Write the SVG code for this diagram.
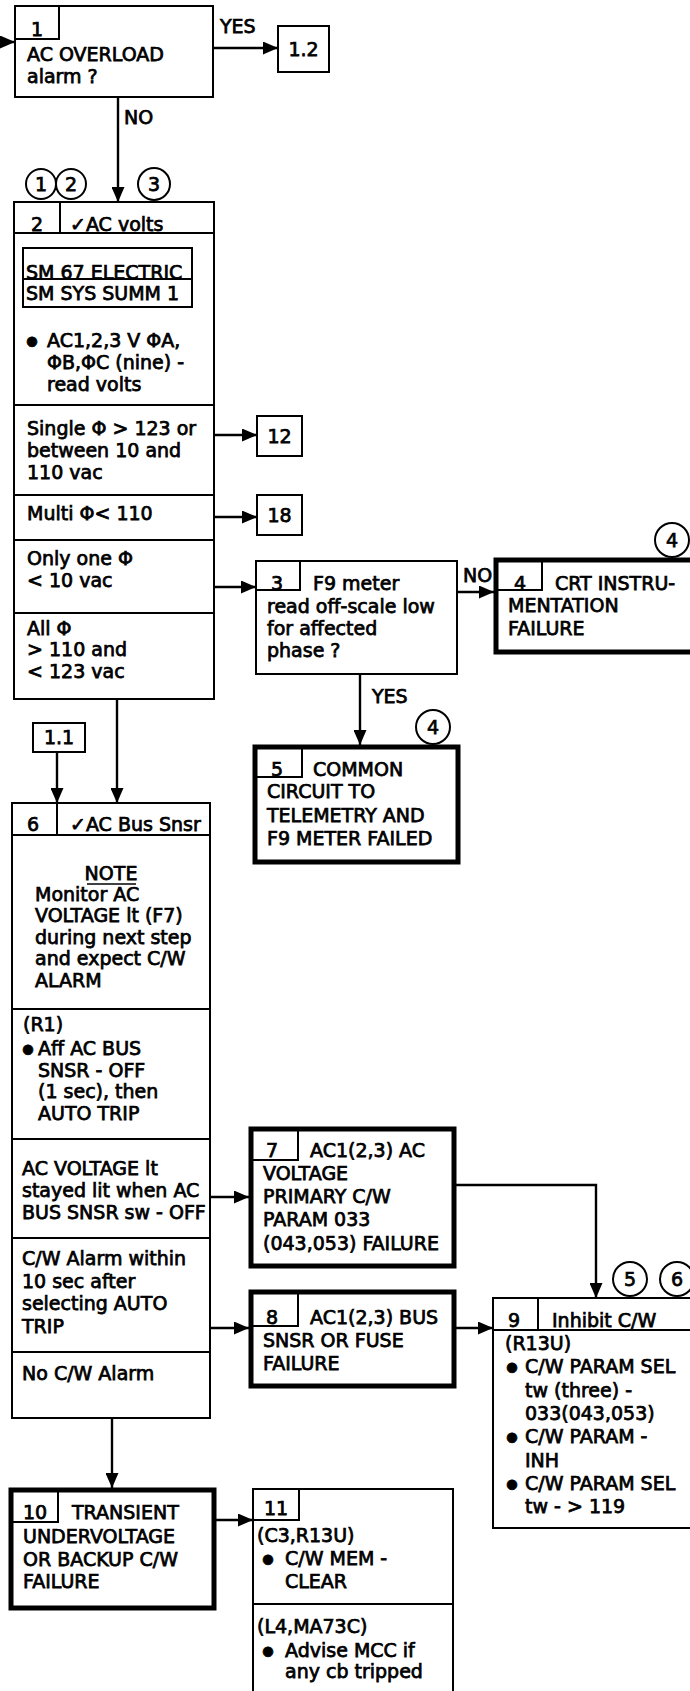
<svg xmlns="http://www.w3.org/2000/svg" width="690" height="1691" viewBox="0 0 690 1691">
<style>
.box{fill:#fff;stroke:#000;stroke-width:2}
.thick{fill:#fff;stroke:#000;stroke-width:5}
.ln{fill:none;stroke:#000;stroke-width:2}
.conn{fill:none;stroke:#000;stroke-width:2.4;marker-end:url(#ah)}
.circ{fill:#fff;stroke:#000;stroke-width:2}
text{font-family:"DejaVu Sans","Liberation Sans",sans-serif;font-size:19px;fill:#000;stroke:#000;stroke-width:0.75}
.m{text-anchor:middle}
.b{font-size:13px}
</style>
<defs>
<marker id="ah" markerUnits="userSpaceOnUse" markerWidth="15" markerHeight="13" refX="15" refY="6.5" orient="auto">
<path d="M0,0 L15,6.5 L0,13 z" fill="#000"/>
</marker>
</defs>
<rect width="690" height="1691" fill="#fff"/>

<g id="connectors">
<path class="conn" d="M0,42 H15"/>
<path class="conn" d="M213,48 H278"/>
<path class="conn" d="M118,97 V202"/>
<path class="conn" d="M214,435 H257"/>
<path class="conn" d="M214,517 H257"/>
<path class="conn" d="M214,587 H256"/>
<path class="conn" d="M457,592 H494"/>
<path class="conn" d="M360,674 V745"/>
<path class="conn" d="M117,699 V803"/>
<path class="conn" d="M57,752 V803"/>
<path class="conn" d="M210,1197 H249"/>
<path class="conn" d="M210,1328 H249"/>
<path class="conn" d="M455,1328 H493"/>
<path class="conn" d="M455,1185 H596 V1298"/>
<path class="conn" d="M112,1418 V1488"/>
<path class="conn" d="M213,1520 H253"/>
<text x="220" y="33">YES</text>
<text x="124" y="124">NO</text>
<text x="463" y="582">NO</text>
<text x="372" y="703">YES</text>
</g>

<g id="node1">
<rect class="box" x="15" y="6" width="198" height="91"/>
<path class="ln" d="M15,39 H59 V6"/>
<text class="m" x="37" y="36">1</text>
<text x="27" y="61">AC OVERLOAD</text>
<text x="27" y="83">alarm ?</text>
</g>

<g id="node1-2">
<rect class="box" x="278" y="26" width="51" height="46"/>
<text class="m" x="303.5" y="56">1.2</text>
</g>

<g id="circle1"><circle class="circ" cx="41" cy="184" r="15"/><text class="m" x="41" y="191">1</text></g>
<g id="circle2"><circle class="circ" cx="71" cy="184" r="15"/><text class="m" x="71" y="191">2</text></g>
<g id="circle3"><circle class="circ" cx="154" cy="184" r="16"/><text class="m" x="154" y="191">3</text></g>

<g id="node2">
<rect class="box" x="14" y="202" width="200" height="497"/>
<path class="ln" d="M14,233 H214 M60,202 V233"/>
<text class="m" x="37" y="231">2</text>
<text x="70" y="231">✓AC volts</text>
<rect class="box" x="23" y="248" width="169" height="59"/>
<path class="ln" d="M23,279 H192"/>
<text x="26" y="279">SM 67 ELECTRIC</text>
<text x="26" y="300">SM SYS SUMM 1</text>
<text x="32" y="345" class="m b">●</text>
<text x="47" y="347">AC1,2,3 V ΦA,</text>
<text x="47" y="369">ΦB,ΦC (nine) -</text>
<text x="47" y="391">read volts</text>
<path class="ln" d="M14,405 H214 M14,495 H214 M14,540 H214 M14,613 H214"/>
<text x="27" y="435">Single Φ &gt; 123 or</text>
<text x="27" y="457">between 10 and</text>
<text x="27" y="479">110 vac</text>
<text x="27" y="520">Multi Φ&lt; 110</text>
<text x="27" y="565">Only one Φ</text>
<text x="27" y="587">&lt; 10 vac</text>
<text x="27" y="635">All Φ</text>
<text x="27" y="656">&gt; 110 and</text>
<text x="27" y="678">&lt; 123 vac</text>
</g>

<g id="node12">
<rect class="box" x="257" y="416" width="45" height="40"/>
<text class="m" x="279.5" y="443">12</text>
</g>

<g id="node18">
<rect class="box" x="257" y="495" width="45" height="40"/>
<text class="m" x="279.5" y="522">18</text>
</g>

<g id="node3">
<rect class="box" x="256" y="561" width="201" height="113"/>
<path class="ln" d="M256,590 H300 V561"/>
<text class="m" x="277" y="590">3</text>
<text x="313" y="590">F9 meter</text>
<text x="267" y="613">read off-scale low</text>
<text x="267" y="635">for affected</text>
<text x="267" y="657">phase ?</text>
</g>

<g id="node4">
<rect class="thick" x="496" y="560" width="210" height="92"/>
<path class="ln" d="M497,590 H542 V562"/>
<text class="m" x="520" y="590">4</text>
<text x="555" y="590">CRT INSTRU-</text>
<text x="508" y="612">MENTATION</text>
<text x="508" y="635">FAILURE</text>
</g>
<g id="circle4a"><circle class="circ" cx="672" cy="540" r="17"/><text class="m" x="672" y="547">4</text></g>

<g id="node5">
<rect class="thick" x="255" y="747" width="203" height="115"/>
<path class="ln" d="M257,777 H302 V749"/>
<text class="m" x="277" y="776">5</text>
<text x="313" y="776">COMMON</text>
<text x="267" y="798">CIRCUIT TO</text>
<text x="267" y="822">TELEMETRY AND</text>
<text x="267" y="845">F9 METER FAILED</text>
</g>
<g id="circle4b"><circle class="circ" cx="433" cy="727" r="17"/><text class="m" x="433" y="734">4</text></g>

<g id="node1-1">
<rect class="box" x="33" y="723" width="52" height="29"/>
<text class="m" x="59" y="744">1.1</text>
</g>

<g id="node6">
<rect class="box" x="12" y="803" width="198" height="615"/>
<path class="ln" d="M12,835 H210 M57,803 V835"/>
<text class="m" x="33" y="831">6</text>
<text x="70" y="831">✓AC Bus Snsr</text>
<text class="m" x="111" y="880">NOTE</text>
<path d="M87,884 H136" stroke="#000" stroke-width="1.6"/>
<text x="35" y="901">Monitor AC</text>
<text x="35" y="922">VOLTAGE lt (F7)</text>
<text x="35" y="944">during next step</text>
<text x="35" y="965">and expect C/W</text>
<text x="35" y="987">ALARM</text>
<path class="ln" d="M12,1009 H210"/>
<text x="23" y="1031">(R1)</text>
<text x="28" y="1053" class="m b">●</text>
<text x="38" y="1055">Aff AC BUS</text>
<text x="38" y="1077">SNSR - OFF</text>
<text x="38" y="1098">(1 sec), then</text>
<text x="38" y="1120">AUTO TRIP</text>
<path class="ln" d="M12,1139 H210"/>
<text x="22" y="1175">AC VOLTAGE lt</text>
<text x="22" y="1197">stayed lit when AC</text>
<text x="22" y="1219">BUS SNSR sw - OFF</text>
<path class="ln" d="M12,1238 H210"/>
<text x="22" y="1265">C/W Alarm within</text>
<text x="22" y="1288">10 sec after</text>
<text x="22" y="1310">selecting AUTO</text>
<text x="22" y="1333">TRIP</text>
<path class="ln" d="M12,1352 H210"/>
<text x="22" y="1380">No C/W Alarm</text>
</g>

<g id="node7">
<rect class="thick" x="251" y="1129" width="203" height="137"/>
<path class="ln" d="M253,1160 H298 V1131"/>
<text class="m" x="272" y="1157">7</text>
<text x="310" y="1157">AC1(2,3) AC</text>
<text x="263" y="1180">VOLTAGE</text>
<text x="263" y="1203">PRIMARY C/W</text>
<text x="263" y="1226">PARAM 033</text>
<text x="263" y="1250">(043,053) FAILURE</text>
</g>

<g id="node8">
<rect class="thick" x="251" y="1292" width="203" height="94"/>
<path class="ln" d="M253,1326 H298 V1294"/>
<text class="m" x="272" y="1324">8</text>
<text x="310" y="1324">AC1(2,3) BUS</text>
<text x="263" y="1347">SNSR OR FUSE</text>
<text x="263" y="1370">FAILURE</text>
</g>

<g id="node9">
<rect class="box" x="493" y="1298" width="210" height="230"/>
<path class="ln" d="M493,1330 H700 M538,1298 V1330"/>
<text class="m" x="514" y="1327">9</text>
<text x="552" y="1327">Inhibit C/W</text>
<text x="505" y="1350">(R13U)</text>
<text x="512" y="1371" class="m b">●</text>
<text x="525" y="1373">C/W PARAM SEL</text>
<text x="525" y="1397">tw (three) -</text>
<text x="525" y="1420">033(043,053)</text>
<text x="512" y="1441" class="m b">●</text>
<text x="525" y="1443">C/W PARAM -</text>
<text x="525" y="1467">INH</text>
<text x="512" y="1488" class="m b">●</text>
<text x="525" y="1490">C/W PARAM SEL</text>
<text x="525" y="1513">tw - &gt; 119</text>
</g>
<g id="circle5"><circle class="circ" cx="630" cy="1279" r="17"/><text class="m" x="630" y="1286">5</text></g>
<g id="circle6"><circle class="circ" cx="677" cy="1279" r="17"/><text class="m" x="677" y="1286">6</text></g>

<g id="node10">
<rect class="thick" x="11" y="1490" width="203" height="118"/>
<path class="ln" d="M13,1522 H58 V1492"/>
<text class="m" x="35" y="1519">10</text>
<text x="72" y="1519">TRANSIENT</text>
<text x="23" y="1543">UNDERVOLTAGE</text>
<text x="23" y="1566">OR BACKUP C/W</text>
<text x="23" y="1588">FAILURE</text>
</g>

<g id="node11">
<rect class="box" x="253" y="1489" width="200" height="230"/>
<path class="ln" d="M253,1520 H299 V1489"/>
<text class="m" x="276" y="1515">11</text>
<text x="257" y="1542">(C3,R13U)</text>
<text x="268" y="1563" class="m b">●</text>
<text x="285" y="1565">C/W MEM -</text>
<text x="285" y="1588">CLEAR</text>
<path class="ln" d="M253,1604 H453"/>
<text x="257" y="1633">(L4,MA73C)</text>
<text x="268" y="1655" class="m b">●</text>
<text x="285" y="1657">Advise MCC if</text>
<text x="285" y="1678">any cb tripped</text>
</g>
</svg>
